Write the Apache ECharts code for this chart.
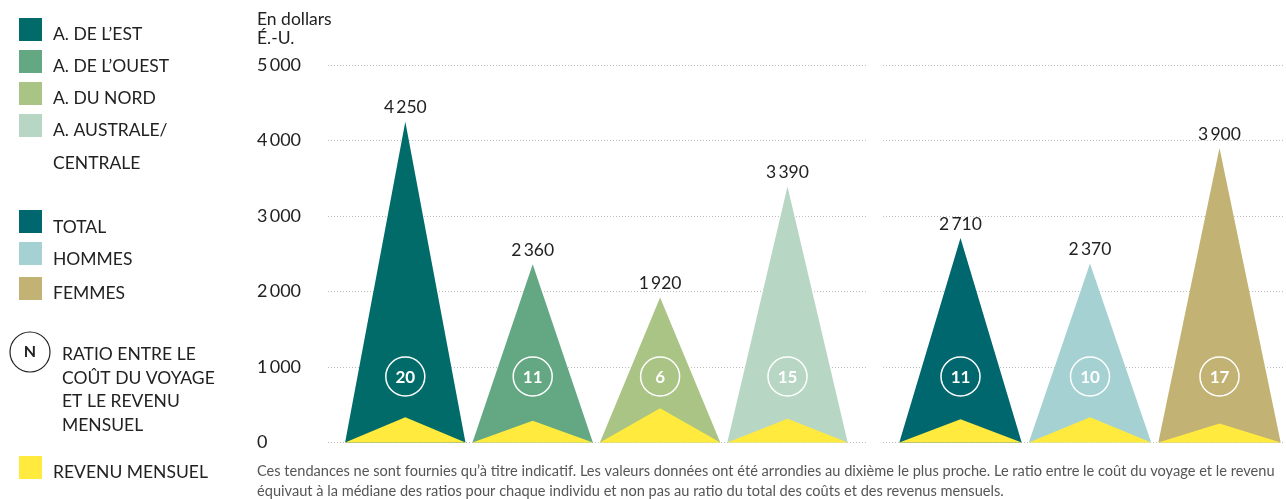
<!DOCTYPE html>
<html>
<head>
<meta charset="utf-8">
<script src="https://cdn.jsdelivr.net/npm/echarts@6/dist/echarts.min.js"></script>
<style>
html,body{margin:0;padding:0;background:#fff;}
#c{width:1286px;height:499px;}
</style>
</head>
<body>
<div id="c"></div>
<script>
// ---- DATA ----
const regionCats = ['A. DE L\u2019EST', 'A. DE L\u2019OUEST', 'A. DU NORD', 'A. AUSTRALE/CENTRALE'];
const regionCost = [4250, 2360, 1920, 3390];
const regionIncome = [336, 288, 455, 315];
const regionRatio = [20, 11, 6, 15];

const sexCats = ['TOTAL', 'HOMMES', 'FEMMES'];
const sexCost = [2710, 2370, 3900];
const sexIncome = [309, 336, 252];
const sexRatio = [11, 10, 17];

const yTicks = [0, 1000, 2000, 3000, 4000, 5000];

const regionColors = ['#006B69', '#63A883', '#A9C485', '#B8D6C4'];
const sexColors = ['#00676E', '#A5D1D2', '#C2B273'];
const incomeColor = '#FFEA3D';

const FONT = 'Lato, "Open Sans", sans-serif';
const fmt = v => String(v).replace(/\B(?=(\d{3})+(?!\d))/g, '\u2009');
const fmtAxis = v => String(v).replace(/\B(?=(\d{3})+(?!\d))/g, '\u2009');

const chart = echarts.init(document.getElementById('c'), null, {renderer: 'canvas'});

function makeRender(colors) {
  return function (params, api) {
    const i = api.value(0), v = api.value(1), inc = api.value(2), ratio = api.value(3);
    const base = api.coord([i, 0]);
    const top = api.coord([i, v]);
    const incTop = api.coord([i, inc]);
    const hw = api.size([1, 0])[0] * 0.945 / 2;
    return {
      type: 'group',
      children: [
        {type: 'polygon', shape: {points: [[base[0] - hw, base[1]], [top[0], top[1]], [base[0] + hw, base[1]]]},
          style: {fill: colors[i]}},
        {type: 'polygon', shape: {points: [[base[0] - hw, base[1]], [incTop[0], incTop[1]], [base[0] + hw, base[1]]]},
          style: {fill: incomeColor}},
        {type: 'circle', shape: {cx: base[0], cy: base[1] - 66, r: 19.5},
          style: {fill: 'none', stroke: '#fff', lineWidth: 1.5}},
        {type: 'text', style: {text: String(ratio), x: base[0], y: base[1] - 65, align: 'center', verticalAlign: 'middle',
          fill: '#fff', font: 'bold 17px ' + FONT}},
        {type: 'text', style: {text: fmt(v), x: top[0], y: top[1] - 14, align: 'center', verticalAlign: 'middle',
          fill: '#222', font: '17.5px ' + FONT}}
      ]
    };
  };
}

const gridTop = 65, gridBottom = 56.5;
const yMax = yTicks[yTicks.length - 1];

const option = {
  animation: false,
  grid: [
    {left: 328, width: 539, top: gridTop, bottom: gridBottom},   // panel 1 gridlines
    {left: 341.6, width: 509.6, top: gridTop, bottom: gridBottom}, // panel 1 marks
    {left: 883, width: 401, top: gridTop, bottom: gridBottom},    // panel 2 gridlines
    {left: 895.75, width: 388.5, top: gridTop, bottom: gridBottom} // panel 2 marks
  ],
  xAxis: [
    {gridIndex: 0, type: 'value', min: 0, max: 1, show: false},
    {gridIndex: 1, type: 'category', data: regionCats, show: false},
    {gridIndex: 2, type: 'value', min: 0, max: 1, show: false},
    {gridIndex: 3, type: 'category', data: sexCats, show: false}
  ],
  yAxis: [
    {gridIndex: 0, type: 'value', min: 0, max: yMax, interval: 1000,
      axisLine: {show: false}, axisTick: {show: false},
      axisLabel: {align: 'left', margin: 71, color: '#222', fontSize: 18, fontFamily: FONT, formatter: fmtAxis},
      splitLine: {lineStyle: {type: [1, 2], color: '#bdbdbd', width: 1}}},
    {gridIndex: 1, type: 'value', min: 0, max: yMax, interval: 1000, show: false, splitLine: {show: false}},
    {gridIndex: 2, type: 'value', min: 0, max: yMax, interval: 1000,
      axisLine: {show: false}, axisTick: {show: false}, axisLabel: {show: false},
      splitLine: {lineStyle: {type: [1, 2], color: '#bdbdbd', width: 1}}},
    {gridIndex: 3, type: 'value', min: 0, max: yMax, interval: 1000, show: false, splitLine: {show: false}}
  ],
  series: [
    {type: 'custom', xAxisIndex: 1, yAxisIndex: 1, renderItem: makeRender(regionColors),
      encode: {x: 0, y: 1},
      data: regionCats.map((c, i) => [i, regionCost[i], regionIncome[i], regionRatio[i]])},
    {type: 'custom', xAxisIndex: 3, yAxisIndex: 3, renderItem: makeRender(sexColors),
      encode: {x: 0, y: 1},
      data: sexCats.map((c, i) => [i, sexCost[i], sexIncome[i], sexRatio[i]])}
  ],
  graphic: []
};

// ---- Legend & texts ----
const g = [];
const txt = (t, x, y, opts = {}) => g.push({type: 'text', x: x, y: y,
  style: Object.assign({text: t, fill: '#222', font: '17.5px ' + FONT, verticalAlign: 'middle', align: 'left'}, opts)});
const sq = (x, y, c) => g.push({type: 'rect', x: x, y: y, shape: {width: 23, height: 23}, style: {fill: c}});

const regionLegendY = [18, 50, 82, 114];
regionCats.forEach((c, i) => {
  sq(19, regionLegendY[i], regionColors[i]);
});
txt('A. DE L\u2019EST', 53, 34);
txt('A. DE L\u2019OUEST', 53, 66);
txt('A. DU NORD', 53, 98);
txt('A. AUSTRALE/', 53, 130);
txt('CENTRALE', 53, 163);

const sexLegendY = [210, 242, 277];
const sexLegendTextY = [227, 259, 293];
sexCats.forEach((c, i) => {
  sq(19, sexLegendY[i], sexColors[i]);
  txt(c, 53, sexLegendTextY[i]);
});

g.push({type: 'circle', shape: {cx: 30, cy: 352, r: 20}, style: {fill: 'none', stroke: '#222', lineWidth: 1.2}});
txt('N', 30, 352, {align: 'center', font: 'bold 16px ' + FONT});
txt('RATIO ENTRE LE', 62, 354);
txt('CO\u00DBT DU VOYAGE', 62, 378);
txt('ET LE REVENU', 62, 401);
txt('MENSUEL', 62, 425);

sq(19, 456, incomeColor);
txt('REVENU MENSUEL', 53, 472);

txt('En dollars', 257, 19);
txt('\u00C9.-U.', 257, 38);

const note1 = 'Ces tendances ne sont fournies qu\u2019\u00E0 titre indicatif. Les valeurs donn\u00E9es ont \u00E9t\u00E9 arrondies au dixi\u00E8me le plus proche. Le ratio entre le co\u00FBt du voyage et le revenu';
const note2 = '\u00E9quivaut \u00E0 la m\u00E9diane des ratios pour chaque individu et non pas au ratio du total des co\u00FBts et des revenus mensuels.';
txt(note1, 257, 471, {font: '14.6px ' + FONT, fill: '#555'});
txt(note2, 257, 491, {font: '14.6px ' + FONT, fill: '#555'});

option.graphic = g;
chart.setOption(option);
</script>
</body>
</html>
